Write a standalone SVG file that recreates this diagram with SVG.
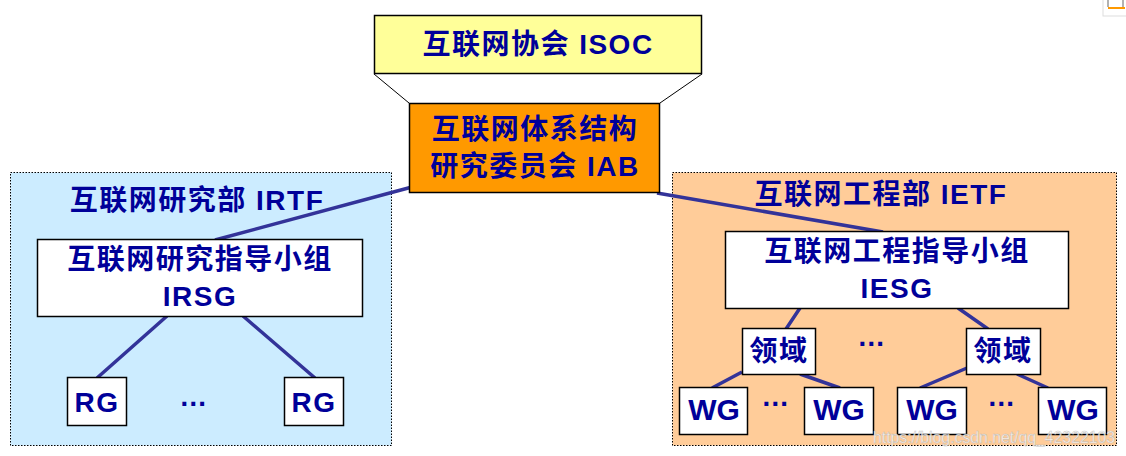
<svg xmlns="http://www.w3.org/2000/svg" width="1126" height="456" viewBox="0 0 1126 456">
<style>
.t{font-family:"Liberation Sans","Noto Sans CJK SC",sans-serif;font-weight:bold;font-size:28px;fill:#000099;text-anchor:middle;letter-spacing:1.5px}
.wg{font-size:30px;letter-spacing:0}
.box{fill:#ffffff;stroke:#000000;stroke-width:1.5}
.region{stroke:#000000;stroke-width:1;stroke-dasharray:1.5 1.5}
.conn{stroke:#333399;stroke-width:3.5;fill:none}
.thin{stroke:#000000;stroke-width:1;fill:none}
</style>
<rect width="1126" height="456" fill="#ffffff"/>
<g id="icon">
<rect x="1103" y="-1" width="24" height="17" fill="#ffffff" stroke="#dddddd"/>
<path d="M1108 0V7M1123 0V7" stroke="#999999" stroke-width="1.5"/>
<path d="M1108 8H1125" stroke="#ff9900" stroke-width="2"/>
</g>
<g id="irtf">
<rect class="region" x="10.5" y="172.5" width="381" height="273" fill="#ccecff"/>
<text class="t" x="197" y="210">互联网研究部 IRTF</text>
</g>
<g id="ietf">
<rect class="region" x="672.5" y="172.5" width="444" height="273" fill="#ffcc99"/>
<text class="t" x="881" y="204">互联网工程部 IETF</text>
</g>
<g id="connectors">
<path class="thin" d="M374 74L409 103M702 74L660 103"/>
<path class="conn" d="M412 187L215 240"/>
<path class="conn" d="M657 193L883 232"/>
<path class="conn" d="M167 316L97 378M243 316L315 378"/>
<path class="conn" d="M800 308L786 329M958 308L988 329"/>
<path class="conn" d="M742 372L712 388M800 374L840 388"/>
<path class="conn" d="M967 368L920 388M1017 374L1048 388"/>
</g>
<g id="isoc">
<rect x="374.5" y="15.5" width="327" height="58" fill="#ffff99" stroke="#000000" stroke-width="1.5"/>
<text class="t" x="538" y="54">互联网协会 ISOC</text>
</g>
<g id="iab">
<rect x="409.5" y="103.5" width="250" height="89" fill="#ff9900" stroke="#000000" stroke-width="1.5"/>
<text class="t" x="535" y="139">互联网体系结构</text>
<text class="t" x="535" y="176">研究委员会 IAB</text>
</g>
<g id="irsg">
<rect class="box" x="37.5" y="239.5" width="325" height="77"/>
<text class="t" x="200" y="269">互联网研究指导小组</text>
<text class="t" x="200" y="306">IRSG</text>
</g>
<g id="rg1">
<rect class="box" x="67.5" y="377.5" width="59" height="48"/>
<text class="t" x="97" y="412">RG</text>
</g>
<g id="rg-dots">
<text class="t" x="194" y="406">…</text>
</g>
<g id="rg2">
<rect class="box" x="284.5" y="377.5" width="59" height="48"/>
<text class="t" x="314" y="412">RG</text>
</g>
<g id="iesg">
<rect class="box" x="725.5" y="231.5" width="343" height="77"/>
<text class="t" x="897" y="261">互联网工程指导小组</text>
<text class="t" x="897" y="298">IESG</text>
</g>
<g id="area1">
<rect class="box" x="742.5" y="328.5" width="73" height="46"/>
<text class="t" x="779" y="361">领域</text>
</g>
<g id="area-dots">
<text class="t" x="872" y="346">…</text>
</g>
<g id="area2">
<rect class="box" x="966.5" y="328.5" width="74" height="46"/>
<text class="t" x="1003" y="361">领域</text>
</g>
<g id="wg1">
<rect class="box" x="679.5" y="387.5" width="68" height="47"/>
<text class="t wg" x="714" y="420">WG</text>
</g>
<g id="wg-dots1">
<text class="t" x="776" y="406">…</text>
</g>
<g id="wg2">
<rect class="box" x="804.5" y="387.5" width="69" height="47"/>
<text class="t wg" x="839" y="420">WG</text>
</g>
<g id="wg3">
<rect class="box" x="897.5" y="387.5" width="69" height="47"/>
<text class="t wg" x="932" y="420">WG</text>
</g>
<g id="wg-dots2">
<text class="t" x="1002" y="406">…</text>
</g>
<g id="wg4">
<rect class="box" x="1038.5" y="387.5" width="68" height="47"/>
<text class="t wg" x="1073" y="420">WG</text>
</g>
<g id="watermark">
<text x="873" y="443" font-family="Liberation Sans, sans-serif" font-size="17" fill="#ffffff" fill-opacity="0.8" stroke="#b0b0b0" stroke-width="0.5" stroke-opacity="0.8" textLength="242" lengthAdjust="spacingAndGlyphs">https://blog.csdn.net/qq_42322103</text>
</g>
</svg>
